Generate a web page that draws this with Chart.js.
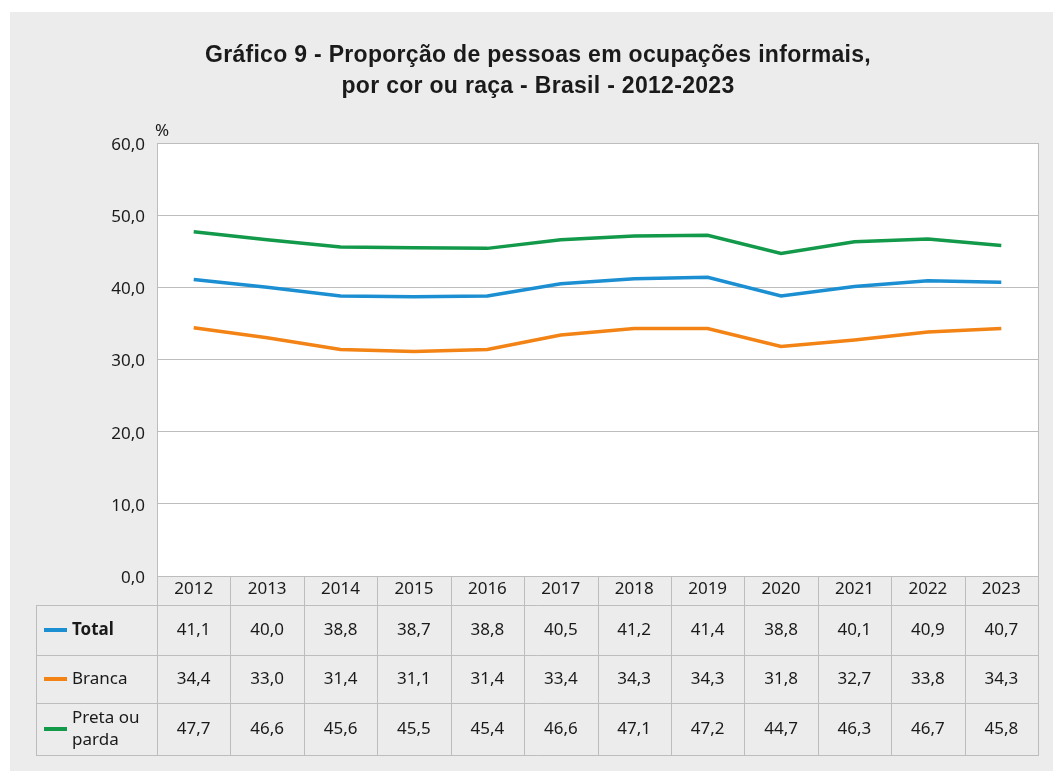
<!DOCTYPE html>
<html>
<head>
<meta charset="utf-8">
<script src="https://cdn.jsdelivr.net/npm/chart.js@4"></script>
<style>
  html, body { margin: 0; padding: 0; background: #fff; }
  canvas { display: block; }
</style>
</head>
<body>
<canvas id="chart" width="1053" height="771"></canvas>
<script>
const years = ["2012", "2013", "2014", "2015", "2016", "2017", "2018", "2019", "2020", "2021", "2022", "2023"];
const total = [41.1, 40.0, 38.8, 38.7, 38.8, 40.5, 41.2, 41.4, 38.8, 40.1, 40.9, 40.7];
const branca = [34.4, 33.0, 31.4, 31.1, 31.4, 33.4, 34.3, 34.3, 31.8, 32.7, 33.8, 34.3];
const pretaParda = [47.7, 46.6, 45.6, 45.5, 45.4, 46.6, 47.1, 47.2, 44.7, 46.3, 46.7, 45.8];
const seriesNames = [["Total"], ["Branca"], ["Preta ou", "parda"]];
const seriesColors = ["#1b8fd2", "#f28314", "#12994a"];
const titleLines = ["Gráfico 9 - Proporção de pessoas em ocupações informais,", "por cor ou raça - Brasil - 2012-2023"];
const yUnit = "%";

const fmt = v => v.toFixed(1).replace(".", ",");
const gridColor = "#bdbdbd";
const textFont = '17px "Noto Sans"';

const tablePlugin = {
  id: "tablePlugin",
  beforeDraw(chart) {
    const ctx = chart.ctx;
    const a = chart.chartArea;
    ctx.save();
    ctx.fillStyle = "#ffffff";
    ctx.fillRect(0, 0, chart.width, chart.height);
    ctx.fillStyle = "#ececec";
    ctx.fillRect(10, 12, chart.width - 10, chart.height - 12);
    ctx.fillStyle = "#ffffff";
    ctx.fillRect(a.left, a.top, a.right - a.left, a.bottom - a.top);
    ctx.restore();
  },
  afterDraw(chart) {
    const ctx = chart.ctx;
    const a = chart.chartArea;
    const x = chart.scales.x;
    const n = years.length;
    const colW = (a.right - a.left) / n;
    const rows = [a.bottom, a.bottom + 29, a.bottom + 79, a.bottom + 127, a.bottom + 179];
    const tableLeft = 36;
    ctx.save();

    // title
    ctx.fillStyle = "#1a1a1a";
    ctx.font = 'bold 23px "Liberation Sans"';
    ctx.letterSpacing = "0.3px";
    ctx.textAlign = "center";
    ctx.textBaseline = "alphabetic";
    titleLines.forEach((t, i) => ctx.fillText(t, 538, 62 + i * 31));
    ctx.letterSpacing = "0px";

    // unit
    ctx.textBaseline = "middle";
    ctx.font = textFont;
    ctx.textAlign = "left";
    ctx.fillText(yUnit, a.left - 2, a.top - 12);

    // plot frame right side
    ctx.strokeStyle = gridColor;
    ctx.lineWidth = 1;
    ctx.beginPath();
    ctx.moveTo(a.right + 0.5, a.top);
    ctx.lineTo(a.right + 0.5, rows[4]);
    ctx.stroke();

    // table grid
    ctx.beginPath();
    for (let i = 0; i <= n; i++) {
      const xx = Math.round(a.left + i * colW) + 0.5;
      ctx.moveTo(xx, rows[0]);
      ctx.lineTo(xx, rows[4]);
    }
    for (let r = 1; r < rows.length; r++) {
      ctx.moveTo(tableLeft, rows[r] + 0.5);
      ctx.lineTo(a.right + 1, rows[r] + 0.5);
    }
    ctx.moveTo(tableLeft + 0.5, rows[1]);
    ctx.lineTo(tableLeft + 0.5, rows[4]);
    ctx.stroke();

    // rows
    const data = chart.data.datasets;
    data.forEach((ds, r) => {
      const cy = (rows[r + 1] + rows[r + 2]) / 2;
      ctx.strokeStyle = seriesColors[r];
      ctx.lineWidth = 4;
      ctx.beginPath();
      ctx.moveTo(44, cy);
      ctx.lineTo(67, cy);
      ctx.stroke();
      ctx.fillStyle = "#1a1a1a";
      ctx.textAlign = "left";
      ctx.font = r === 0 ? 'bold 17px "Noto Sans"' : textFont;
      const lines = seriesNames[r];
      lines.forEach((l, k) => ctx.fillText(l, 72, cy + (k - (lines.length - 1) / 2) * 22));
      ctx.font = textFont;
      ctx.textAlign = "center";
      ds.data.forEach((v, i) => {
        ctx.fillText(fmt(v), x.getPixelForValue(i), cy);
      });
    });
    ctx.restore();
  }
};

new Chart(document.getElementById("chart"), {
  type: "line",
  data: {
    labels: years,
    datasets: [
      { label: "Total", data: total, borderColor: seriesColors[0] },
      { label: "Branca", data: branca, borderColor: seriesColors[1] },
      { label: "Preta ou parda", data: pretaParda, borderColor: seriesColors[2] }
    ]
  },
  options: {
    responsive: false,
    animation: false,
    layout: { padding: { top: 143, left: 97, right: 15, bottom: 166 } },
    elements: {
      line: { borderWidth: 3.5, tension: 0 },
      point: { radius: 0 }
    },
    plugins: {
      legend: { display: false },
      title: { display: false },
      tooltip: { enabled: false }
    },
    scales: {
      x: {
        offset: true,
        grid: { display: false, drawTicks: false },
        border: { display: true, color: gridColor },
        ticks: { color: "#1a1a1a", font: { family: "Noto Sans", size: 17 }, padding: 3, maxRotation: 0 },
        afterFit(scale) { scale.height = 29; }
      },
      y: {
        min: 0,
        max: 60,
        grid: { color: gridColor, drawTicks: false },
        border: { display: true, color: gridColor },
        ticks: {
          stepSize: 10,
          color: "#1a1a1a",
          font: { family: "Noto Sans", size: 17 },
          padding: 12,
          labelOffset: 2,
          callback: v => fmt(v)
        },
        afterFit(scale) { scale.width = 60; }
      }
    }
  },
  plugins: [tablePlugin]
});
</script>
</body>
</html>
